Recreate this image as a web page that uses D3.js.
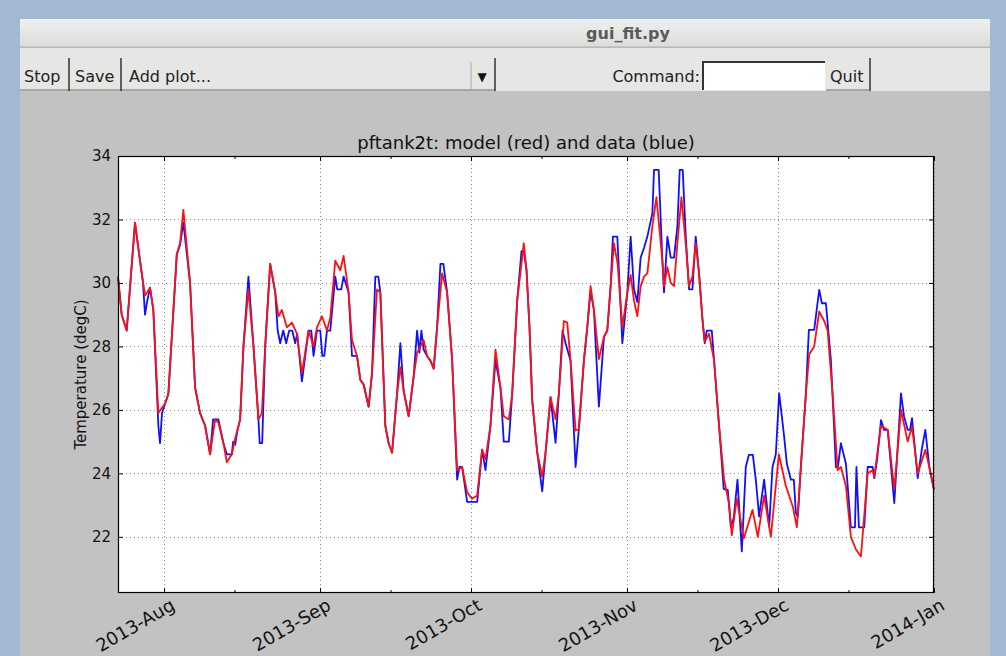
<!DOCTYPE html>
<html><head><meta charset="utf-8">
<script src="https://cdn.jsdelivr.net/npm/d3@7"></script>
<style>
html,body{margin:0;padding:0;background:#a3b8d3;overflow:hidden;}
svg{display:block;font-family:"DejaVu Sans",sans-serif;}
</style></head><body>
<svg id="c" width="1006" height="656"></svg>
<script>
// ---- data (time in fractional days since 2013-01-01 UTC) ----
const modelDays=[202.85,203.58,204.58,206.23,207.22,208.22,209.21,209.87,210.87,212.20,212.86,214.53,215.18,215.84,217.17,218.17,219.16,220.16,221.15,222.15,222.80,223.80,224.48,225.47,226.13,227.12,227.78,228.77,229.77,230.76,231.44,232.10,233.09,234.09,234.74,235.42,236.41,237.41,238.40,239.40,240.71,241.71,242.38,243.38,244.37,245.03,246.02,247.02,247.68,248.67,249.35,250.34,251.00,251.66,252.65,253.33,254.32,254.98,255.97,256.63,257.31,258.30,258.96,259.61,260.61,261.60,262.28,263.59,264.27,264.93,265.58,266.26,267.25,268.25,269.24,270.24,271.23,272.23,273.22,274.22,275.21,275.87,276.86,277.86,278.85,279.51,280.51,281.18,282.18,283.49,284.03,284.62,285.16,286.16,287.15,287.81,288.80,289.80,290.45,291.45,292.12,292.78,293.78,294.43,295.43,296.10,296.76,297.42,298.41,299.41,300.08,300.74,301.40,302.13,303.07,304.06,304.72,305.38,306.05,306.71,307.37,308.04,309.04,309.84,311.03,311.35,312.02,312.68,313.34,314.01,314.81,315.66,316.32,317.00,317.65,318.31,318.99,319.44,320.30,321.30,322.29,323.29,324.28,324.82,325.81,327.21,328.94,329.99,331.24,332.58,334.17,335.56,336.95,337.75,338.54,339.54,340.20,341.19,342.19,343.18,343.86,344.85,345.85,346.50,347.50,348.49,349.49,350.48,351.82,352.81,353.13,354.47,355.80,357.11,358.44,359.77,360.63,361.77,363.28,364.07,365.00];
const modelTemps=[30.15,29.0,28.5,31.9,30.7,29.6,29.85,29.15,25.9,26.2,26.5,30.9,31.25,32.3,30.0,26.7,25.9,25.5,24.6,25.7,25.6,24.95,24.35,24.6,25.1,25.7,28.0,29.8,28.0,25.7,25.9,28.0,30.6,29.7,28.95,29.15,28.6,28.75,28.4,27.15,28.5,28.0,28.6,28.95,28.5,28.9,30.7,30.4,30.85,29.7,28.2,27.7,26.95,26.8,26.1,27.15,29.8,29.7,25.5,24.95,24.65,26.5,27.35,26.6,25.8,27.05,27.8,28.2,27.7,27.55,27.3,28.6,30.3,29.7,27.6,24.1,24.2,23.4,23.2,23.3,24.75,24.45,25.5,27.9,26.7,25.8,25.7,26.5,29.45,31.25,30.4,28.6,26.3,24.65,23.9,24.65,26.4,25.7,26.5,28.8,28.75,27.55,25.35,25.4,27.55,28.6,29.9,29.15,27.6,28.3,28.5,29.9,31.25,30.6,28.6,29.7,30.25,29.45,28.95,29.9,30.2,30.3,31.8,32.7,30.7,29.9,30.5,30.0,29.9,31.25,32.7,31.25,29.9,30.2,31.25,30.3,28.85,28.15,28.4,27.55,25.5,23.8,23.05,22.05,23.2,21.95,22.85,22.0,23.3,22.0,24.6,23.6,22.95,22.3,24.2,26.5,27.75,28.0,29.1,28.8,28.5,26.5,24.1,24.2,23.6,22.0,21.6,21.38,24.0,24.1,23.9,25.5,25.37,23.5,26.0,25.0,25.47,24.0,24.74,24.2,23.48];
const dataDays=[202.85,203.58,204.58,206.23,207.22,207.82,208.22,208.62,209.21,209.87,210.87,211.20,211.60,212.20,212.86,214.53,215.18,215.84,217.17,218.17,219.16,220.16,221.15,221.75,222.80,223.80,224.48,225.47,225.73,226.13,226.52,227.12,227.78,228.77,229.77,230.76,231.00,231.50,232.10,233.09,234.09,234.58,235.08,235.68,236.27,236.87,237.47,238.07,238.46,239.40,240.71,241.25,241.71,242.38,243.04,243.44,243.84,244.37,245.03,246.02,246.42,247.22,247.68,248.67,249.35,250.34,251.00,251.66,252.65,253.33,253.98,254.58,254.98,255.97,256.63,257.31,258.30,258.96,259.61,260.61,261.60,262.28,262.74,263.14,263.59,264.27,264.93,265.58,266.26,266.92,267.51,268.25,269.24,270.24,270.70,271.23,271.69,272.23,274.22,275.21,275.87,276.86,277.86,278.85,279.51,280.51,281.18,282.18,283.03,283.49,284.03,284.62,285.16,286.16,287.15,287.81,288.80,289.80,290.45,291.19,291.79,292.78,293.78,294.43,295.43,296.10,296.76,297.42,298.41,299.41,300.08,300.74,301.20,302.07,303.07,304.06,304.72,305.38,306.05,306.71,307.37,308.04,309.04,309.36,310.29,311.03,311.35,312.02,312.68,313.34,314.01,314.47,315.07,315.66,316.32,317.00,317.65,318.31,318.99,319.44,319.84,320.84,321.30,322.29,323.22,324.02,324.62,325.21,325.95,326.81,327.60,328.20,329.00,329.59,330.25,331.24,332.24,332.91,333.57,334.23,334.76,335.22,335.76,336.56,337.15,337.55,337.95,338.54,339.54,339.88,340.14,341.19,342.19,342.72,343.52,344.51,345.51,345.91,346.50,347.50,348.49,349.29,349.59,350.08,351.14,351.82,352.81,353.13,353.67,354.47,355.06,355.80,357.11,357.85,358.44,359.04,359.77,360.23,360.63,361.77,362.62,363.28,364.07,365.00];
const dataTemps=[30.2,29.0,28.5,31.9,30.7,30.0,29.0,29.4,29.85,29.15,25.5,24.95,25.9,26.2,26.5,30.9,31.2,31.9,30.0,26.7,25.9,25.5,24.6,25.7,25.7,24.95,24.6,24.6,25.0,24.9,25.3,25.7,28.0,30.2,28.0,25.7,24.95,24.95,28.0,30.6,29.7,28.5,28.1,28.5,28.1,28.5,28.5,28.1,28.4,26.9,28.5,28.5,27.7,28.5,28.5,27.7,27.7,28.5,28.5,30.2,29.8,29.8,30.2,29.7,27.7,27.7,26.95,26.8,26.1,27.15,30.2,30.2,29.7,25.5,24.95,24.65,26.5,28.1,26.6,25.8,27.05,28.5,27.8,28.5,27.9,27.7,27.55,27.3,28.6,30.6,30.6,29.7,27.6,23.8,24.2,24.2,23.7,23.1,23.1,24.75,24.1,25.5,27.55,26.7,25.0,25.0,26.5,29.45,31.0,31.0,30.4,28.6,26.3,24.65,23.43,24.65,26.4,24.96,26.5,28.5,28.1,27.55,24.2,25.4,27.55,28.6,29.75,29.15,26.1,28.3,28.5,29.9,31.46,31.46,28.1,29.7,31.46,29.8,29.4,30.8,31.1,31.46,32.2,33.56,33.56,30.7,29.7,31.46,30.8,30.8,31.8,33.56,33.56,31.5,29.8,29.8,31.46,30.3,28.85,28.1,28.5,28.5,27.55,25.5,23.5,23.48,22.32,22.6,23.8,21.54,24.2,24.58,24.58,23.8,22.64,23.8,22.32,24.2,24.6,26.52,25.8,25.16,24.3,23.8,23.8,22.75,22.64,24.2,26.5,27.68,28.52,28.52,29.78,29.36,29.36,27.57,24.2,24.2,24.95,24.3,22.3,22.3,24.2,22.3,22.3,24.2,24.2,23.85,24.4,25.68,25.37,25.37,23.06,25.0,26.52,25.8,25.37,25.37,25.74,23.85,24.8,25.37,24.2,23.48];
const yTicks=[22,24,26,28,30,32,34];
const yDomain=[20.23,34];
const chartTitle="pftank2t: model (red) and data (blue)";
const yLabel="Temperature (degC)";
const windowTitle="gui_fit.py";
const buttons=["Stop","Save"];
const comboText="Add plot...";
const commandLabel="Command:";
const quitLabel="Quit";

const DAY=86400000, T0=Date.UTC(2013,0,1);
const toDate=d=>new Date(T0+d*DAY);
const model=modelDays.map((d,i)=>({t:toDate(d),v:modelTemps[i]}));
const obs=dataDays.map((d,i)=>({t:toDate(d),v:dataTemps[i]}));

const svg=d3.select("#c");
const defs=svg.append("defs");
const g1=defs.append("linearGradient").attr("id","tb").attr("x1",0).attr("y1",0).attr("x2",0).attr("y2",1);
g1.append("stop").attr("offset","0").attr("stop-color","#efefed");
g1.append("stop").attr("offset","1").attr("stop-color","#dcdcda");

// window chrome
svg.append("rect").attr("x",20).attr("y",19).attr("width",970).attr("height",640).attr("fill","#c2c2c2");
svg.append("rect").attr("x",20).attr("y",19).attr("width",970).attr("height",28).attr("fill","url(#tb)");
svg.append("line").attr("x1",20).attr("x2",990).attr("y1",47).attr("y2",47).attr("stroke","#b0b0ae");
svg.append("text").attr("x",628).attr("y",39).attr("text-anchor","middle").attr("font-size",16).attr("font-weight","bold").attr("fill","#5a5a5a").text(windowTitle);
svg.append("rect").attr("x",20).attr("y",48).attr("width",970).attr("height",43).attr("fill","#e6e6e4");
// buttons row
svg.append("line").attr("x1",20).attr("x2",495).attr("y1",90).attr("y2",90).attr("stroke","#666");
const btnX=[24,75];
buttons.forEach((b,i)=>svg.append("text").attr("x",btnX[i]).attr("y",82).attr("font-size",16).attr("fill","#222").text(b));
[69,121,495].forEach(x=>svg.append("line").attr("x1",x).attr("x2",x).attr("y1",58).attr("y2",91).attr("stroke","#333").attr("stroke-width",1.5));
svg.append("text").attr("x",129).attr("y",82).attr("font-size",16).attr("fill","#222").text(comboText);
svg.append("line").attr("x1",471).attr("x2",471).attr("y1",62).attr("y2",89).attr("stroke","#aaa");
svg.append("text").attr("x",482).attr("y",81).attr("text-anchor","middle").attr("font-size",12).attr("fill","#111").text("\u25BC");
svg.append("text").attr("x",700).attr("y",82).attr("text-anchor","end").attr("font-size",16).attr("fill","#222").text(commandLabel);
svg.append("rect").attr("x",702).attr("y",61).attr("width",123).attr("height",29).attr("fill","#fff");
svg.append("path").attr("d","M703,90V62H825").attr("fill","none").attr("stroke","#333").attr("stroke-width",2);
svg.append("text").attr("x",830).attr("y",82).attr("font-size",16).attr("fill","#222").text(quitLabel);
svg.append("line").attr("x1",870).attr("x2",870).attr("y1",58).attr("y2",91).attr("stroke","#333").attr("stroke-width",1.5);
svg.append("line").attr("x1",826).attr("x2",870).attr("y1",90).attr("y2",90).attr("stroke","#666");

// plot
const L=118,R=934,T=156,B=593;
const x=d3.scaleUtc().domain(d3.extent(model,d=>d.t)).range([L,R]);
const y=d3.scaleLinear().domain(yDomain).range([B,T]);
svg.append("rect").attr("x",L).attr("y",T).attr("width",R-L).attr("height",B-T).attr("fill","#fff");

const months=x.ticks(d3.utcMonth.every(1));
const mids=d3.utcDay.range(x.domain()[0],x.domain()[1]).filter(d=>d.getUTCDate()===15);
const grid=svg.append("g").attr("stroke","#888").attr("stroke-dasharray","1,3").attr("stroke-width",1);
months.forEach(m=>grid.append("line").attr("x1",Math.round(x(m))+0.5).attr("x2",Math.round(x(m))+0.5).attr("y1",T).attr("y2",B));
yTicks.forEach(v=>grid.append("line").attr("y1",Math.round(y(v))+0.5).attr("y2",Math.round(y(v))+0.5).attr("x1",L).attr("x2",R));

const line=d3.line().x(d=>x(d.t)).y(d=>y(d.v));
svg.append("path").datum(obs).attr("d",line).attr("fill","none").attr("stroke","#1010ff").attr("stroke-width",1.8).attr("stroke-linejoin","round");
svg.append("path").datum(model).attr("d",line).attr("fill","none").attr("stroke","#ff1010").attr("stroke-width",1.8).attr("stroke-linejoin","round");

// axes (matplotlib style, ticks inside)
const axB=svg.append("g").attr("transform",`translate(0,${B})`).call(d3.axisBottom(x).tickValues(months).tickSize(-5).tickFormat(d3.utcFormat("%Y-%b")));
axB.select(".domain").remove();
axB.selectAll(".tick text").attr("font-size",18).attr("fill","#111").attr("font-family","DejaVu Sans").attr("text-anchor","end").attr("transform","rotate(-30)").attr("dx",0).attr("dy","0.75em").attr("x",2).attr("y",6);
svg.append("g").attr("transform",`translate(0,${B})`).call(d3.axisBottom(x).tickValues(mids).tickSize(-3).tickFormat("")).select(".domain").remove();
svg.append("g").attr("transform",`translate(0,${T})`).call(d3.axisTop(x).tickValues(months).tickSize(-5).tickFormat("")).select(".domain").remove();
svg.append("g").attr("transform",`translate(0,${T})`).call(d3.axisTop(x).tickValues(mids).tickSize(-3).tickFormat("")).select(".domain").remove();
const axL=svg.append("g").attr("transform",`translate(${L},0)`).call(d3.axisLeft(y).tickValues(yTicks).tickSize(-5).tickPadding(7));
axL.select(".domain").remove();
axL.selectAll(".tick text").attr("font-size",15).attr("fill","#111").attr("font-family","DejaVu Sans");
svg.append("g").attr("transform",`translate(${R},0)`).call(d3.axisRight(y).tickValues(yTicks).tickSize(-5).tickFormat("")).select(".domain").remove();
svg.selectAll(".tick line").attr("stroke","#000");
svg.append("rect").attr("x",L+0.5).attr("y",T+0.5).attr("width",R-L-1).attr("height",B-T-1).attr("fill","none").attr("stroke","#000").attr("stroke-width",1.2);

svg.append("text").attr("x",(L+R)/2).attr("y",149).attr("text-anchor","middle").attr("font-size",18).attr("fill","#111").text(chartTitle);
svg.append("text").attr("transform",`translate(86,${(T+B)/2}) rotate(-90)`).attr("text-anchor","middle").attr("font-size",15).attr("fill","#111").text(yLabel);
</script></body></html>
